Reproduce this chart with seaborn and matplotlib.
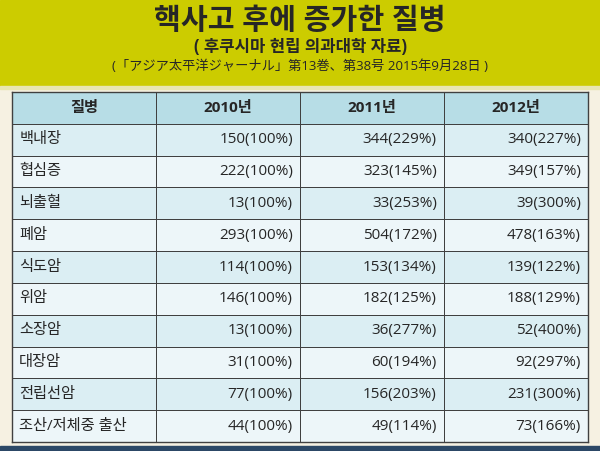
import numpy as np
import matplotlib.pyplot as plt
import seaborn as sns
from matplotlib.colors import ListedColormap

# table data
columns = ["질병", "2010년", "2011년", "2012년"]
diseases = ["백내장", "협심증", "뇌출혈", "폐암", "식도암", "위암",
            "소장암", "대장암", "전립선암", "조산/저체중 출산"]
cases_2010 = [150, 222, 13, 293, 114, 146, 13, 31, 77, 44]
cases_2011 = [344, 323, 33, 504, 153, 182, 36, 60, 156, 49]
cases_2012 = [340, 349, 39, 478, 139, 188, 52, 92, 231, 73]
pct_2010 = [100, 100, 100, 100, 100, 100, 100, 100, 100, 100]
pct_2011 = [229, 145, 253, 172, 134, 125, 277, 194, 203, 114]
pct_2012 = [227, 157, 300, 163, 122, 129, 400, 297, 300, 166]

title = "핵사고 후에 증가한 질병"
subtitle = "( 후쿠시마 현립 의과대학 자료)"
source = "(「アジア太平洋ジャーナル」第13巻、第38号 2015年9月28日 )"

sns.set_theme(style="white")
plt.rcParams["font.family"] = ["Open Sans", "Noto Sans CJK KR", "DejaVu Sans"]

fig = plt.figure(figsize=(6, 4.51), dpi=100)
fig.patch.set_facecolor("#f6f1e2")

# yellow header band and bottom strip
fig.patches.append(plt.Rectangle((0, 1 - 86 / 451), 1, 86 / 451, transform=fig.transFigure,
                                 color="#cccc00", zorder=0))
fig.patches.append(plt.Rectangle((0, 1 - 89 / 451), 1, 3 / 451, transform=fig.transFigure,
                                 color="#e8e6b0", zorder=0))
fig.patches.append(plt.Rectangle((0, 0), 1, 5 / 451, transform=fig.transFigure,
                                 color="#2c4866", zorder=0))

fig.text(0.5, 1 - 22 / 451, title, ha="center", va="center", fontsize=21, fontweight="bold")
fig.text(0.5, 1 - 47 / 451, subtitle, ha="center", va="center", fontsize=12, fontweight="bold")
fig.text(0.5, 1 - 66 / 451, source, ha="center", va="center", fontsize=9.5, fontweight="medium")

# cell shading: 0 header, 1/2 alternating rows
shade = np.zeros((len(diseases) + 1, len(columns)))
for i in range(len(diseases)):
    shade[i + 1, :] = 1 if i % 2 == 0 else 2

ax = fig.add_axes([12 / 600, 9 / 451, 576 / 600, 350 / 451])
sns.heatmap(shade, ax=ax, cmap=ListedColormap(["#b7dde6", "#dbeef3", "#edf6f9"]),
            vmin=-0.5, vmax=2.5, cbar=False, linewidths=0.6, linecolor="#404040",
            xticklabels=False, yticklabels=False)
for s in ax.spines.values():
    s.set_visible(True)
    s.set_color("#404040")
    s.set_linewidth(1.0)

for j, c in enumerate(columns):
    ax.text(j + 0.5, 0.5, c, ha="center", va="center", fontsize=11, fontweight="bold")

for i, d in enumerate(diseases):
    r = i + 1.5
    ax.text(0.05, r, d, ha="left", va="center", fontsize=11)
    vals = [(cases_2010[i], pct_2010[i]), (cases_2011[i], pct_2011[i]), (cases_2012[i], pct_2012[i])]
    for j, (n, p) in enumerate(vals):
        ax.text(j + 1.95, r, f"{n}({p}%)", ha="right", va="center", fontsize=11)

fig.savefig("out.png", dpi=100, facecolor=fig.get_facecolor())
